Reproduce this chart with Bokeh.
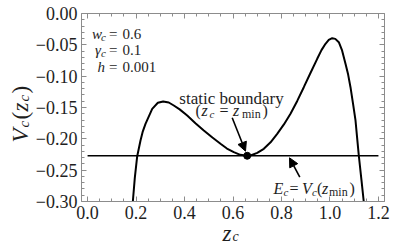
import math
from bokeh.plotting import figure
from bokeh.models import FixedTicker, LinearAxis, Range1d, Label, Arrow, NormalHead
from bokeh.embed import file_html
from bokeh.resources import INLINE

# ---- data ----
z_c = [0.1868, 0.195, 0.2048, 0.2184, 0.228, 0.2390, 0.2667, 0.29, 0.3120,
       0.335, 0.3558, 0.38, 0.4111, 0.445, 0.4795, 0.515, 0.5484, 0.575, 0.6033,
       0.63, 0.6586, 0.6722, 0.70, 0.7271, 0.755, 0.7823, 0.81, 0.8372, 0.865,
       0.8921, 0.92, 0.9474, 0.965, 0.9816, 0.995, 1.0092, 1.022, 1.0365, 1.05,
       1.0641, 1.075, 1.0847, 1.095, 1.1054, 1.112, 1.119, 1.13, 1.1394]
V_c = [-0.300, -0.262, -0.2277, -0.2027, -0.188, -0.1760, -0.1521, -0.1425, -0.1404,
       -0.1420, -0.1468, -0.153, -0.1627, -0.175, -0.1867, -0.198, -0.2079, -0.2155, -0.2213,
       -0.2255, -0.2270, -0.2266, -0.2225, -0.2159, -0.2055, -0.1920, -0.1770, -0.1600, -0.1395,
       -0.1176, -0.0945, -0.0723, -0.0585, -0.0484, -0.0422, -0.0394, -0.0405, -0.0458, -0.0590,
       -0.0803, -0.0975, -0.1176, -0.1435, -0.1707, -0.198, -0.2266, -0.266, -0.300]
z_min = 0.6586
E_c = -0.227
energy_x = [0.0, 1.2]
energy_y = [E_c, E_c]

x_ticks = [0.0, 0.2, 0.4, 0.6, 0.8, 1.0, 1.2]
x_tick_labels = ["0.0", "0.2", "0.4", "0.6", "0.8", "1.0", "1.2"]
y_ticks = [-0.30, -0.25, -0.20, -0.15, -0.10, -0.05, 0.00]
y_tick_labels = ["\u22120.30", "\u22120.25", "\u22120.20", "\u22120.15", "\u22120.10", "\u22120.05", "0.00"]
x_minor = [round(0.05 * i, 2) for i in range(0, 25)]
y_minor = [round(-0.01 * i, 2) for i in range(0, 31)]

FONT = "Liberation Serif"
TXT = "#1e1e1e"
FRAME = "#8c8c8c"

# visible plot box (data) and its place on the page (px)
VX0, VX1 = -0.025, 1.225
VY0, VY1 = -0.30, 0.00
FX0, FX1, FY0, FY1 = 81.0, 384.0, 13.0, 201.0
OFF = 0                    # page offset of the canvas
CW, CH = 394, 243          # canvas size
XS = (FX1 - FX0) / (VX1 - VX0)
YS = (FY1 - FY0) / (VY1 - VY0)
x_lo = VX0 - (FX0 - OFF) / XS
x_hi = VX1 + (OFF + CW - FX1) / XS
y_hi = VY1 + (FY0 - OFF) / YS
y_lo = VY0 - (OFF + CH - FY1) / YS

p = figure(width=CW, height=CH, output_backend="svg", toolbar_location=None,
           title=None, x_range=Range1d(x_lo, x_hi), y_range=Range1d(y_lo, y_hi),
           min_border=0, x_axis_type=None, y_axis_type=None)
p.xgrid.visible = False
p.ygrid.visible = False
p.outline_line_color = None
p.background_fill_color = "white"


def make_axis(ticks, minor, labels, loc, bounds, show):
    ax = LinearAxis(ticker=FixedTicker(ticks=ticks, minor_ticks=minor),
                    fixed_location=loc, bounds=bounds)
    ax.major_label_overrides = {t: l for t, l in zip(ticks, labels)}
    ax.axis_line_color = FRAME
    ax.major_tick_line_color = FRAME
    ax.minor_tick_line_color = FRAME
    ax.major_tick_in = 5
    ax.major_tick_out = 0
    ax.minor_tick_in = 3
    ax.minor_tick_out = 0
    if show:
        ax.major_label_text_font = FONT
        ax.major_label_text_font_size = "18px"
        ax.major_label_text_color = TXT
        ax.major_label_standoff = 4
    else:
        ax.major_label_text_font_size = "0px"
        ax.major_label_text_color = None
        ax.major_label_standoff = 0
    return ax


p.add_layout(make_axis(x_ticks, x_minor, x_tick_labels, VY0, (VX0, VX1), True), "below")
p.add_layout(make_axis(y_ticks, y_minor, y_tick_labels, VX0, (VY0, VY1), True), "left")
p.add_layout(make_axis(x_ticks, x_minor, x_tick_labels, VY1, (VX0, VX1), False), "above")
p.add_layout(make_axis(y_ticks, y_minor, y_tick_labels, VX1, (VY0, VY1), False), "right")

p.line(energy_x, energy_y, line_color="black", line_width=1.3)
p.line(z_c, V_c, line_color="black", line_width=2.0)
p.scatter([z_min], [E_c], size=7, color="black")


def dx(px):
    return VX0 + (px - FX0) / XS


def dy(py):
    return VY1 - (py - FY0) / YS


def put(txt, px, py, size, italic=False, angle=0.0, align="left"):
    p.add_layout(Label(x=dx(px), y=dy(py), text=txt, text_font=FONT,
                       text_font_size=f"{size}px",
                       text_font_style="italic" if italic else "normal",
                       text_align=align, text_baseline="alphabetic",
                       angle=angle, text_color=TXT))


# y axis label V_c(z_c), rotated
R = math.pi / 2
put("V", 20, 142, 23, True, R)
put("c", 23, 127, 15, True, R)
put("(", 20, 119, 23, False, R)
put("z", 20, 111, 23, True, R)
put("c", 23, 101, 15, True, R)
put(")", 20, 93, 23, False, R)

# x axis label z_c
put("z", 222, 233, 23, True)
put("c", 232, 236, 14, True)

# parameters
put("w", 91.5, 33, 15, True)
put("c", 100.5, 36, 11, True)
put("=", 108.5, 33, 15)
put("0.6", 122, 33, 15)
put("\u03b3", 94.5, 49.5, 15, True)
put("c", 100.5, 52.5, 11, True)
put("=", 108.5, 49.5, 15)
put("0.1", 122, 49.5, 15)
put("h", 97, 66, 15, True)
put("=", 108.5, 66, 15)
put("0.001", 122, 66, 15)

# static boundary annotation
put("static boundary", 231, 98, 17, align="center")
put("(", 195, 110, 16)
put("z", 201, 110, 16, True)
put("c", 209, 113, 11, True)
put("=", 219, 110, 16)
put("z", 232.5, 110, 16, True)
put("min", 241.5, 113, 12)
put(")", 262, 110, 16)

# energy annotation
put("E", 273, 188, 16, True)
put("c", 283, 191, 11, True)
put("=", 289, 188, 16)
put("V", 301.5, 188, 16, True)
put("c", 311.5, 191, 11, True)
put("(", 316.5, 188, 16)
put("z", 321.5, 188, 16, True)
put("min", 328.5, 191, 12)
put(")", 349, 188, 16)

# arrows (page px start -> end)
arrows = [((231.7, 117.3), (245.0, 150.7)), ((299.3, 176.7), (289.0, 157.3))]
for (sx, sy), (ex, ey) in arrows:
    p.add_layout(Arrow(end=NormalHead(size=9, line_color="black", fill_color="black", line_width=1),
                       x_start=dx(sx), y_start=dy(sy), x_end=dx(ex), y_end=dy(ey),
                       line_color="black", line_width=1.6))

open("out.html", "w").write(file_html(p, INLINE))
